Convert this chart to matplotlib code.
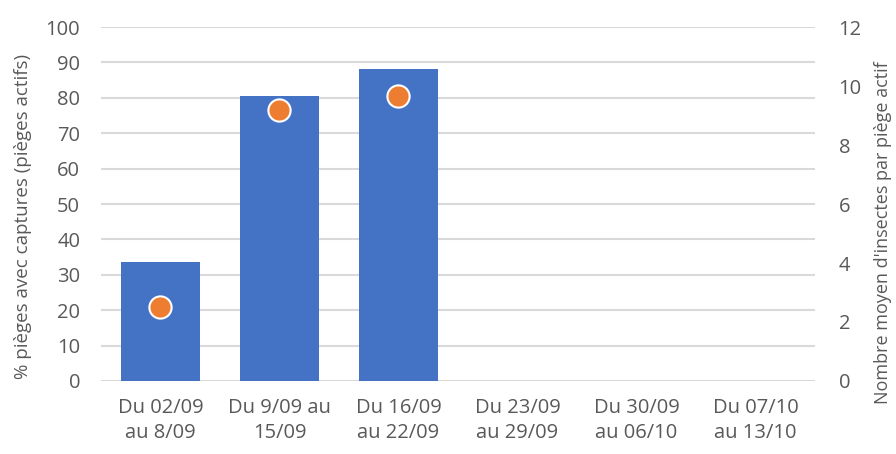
import matplotlib.pyplot as plt

periods = ['Du 02/09\nau 8/09', 'Du 9/09 au\n15/09', 'Du 16/09\nau 22/09',
           'Du 23/09\nau 29/09', 'Du 30/09\nau 06/10', 'Du 07/10\nau 13/10']
pct_captures = [33.7, 80.5, 88.0]
mean_insects = [2.5, 9.2, 9.65]

plt.rcParams['font.family'] = ['Open Sans', 'DejaVu Sans']
grey = '#595959'

fig = plt.figure(figsize=(8.96, 4.54), dpi=100)
ax = fig.add_axes([0.1127, 0.1608, 0.7969, 0.7797])
ax2 = ax.twinx()

x = list(range(len(periods)))
ax.bar(x[:len(pct_captures)], pct_captures, width=0.67, color='#4472C4', zorder=2)
ax2.plot(x[:len(mean_insects)], mean_insects, 'o', ms=16, color='#ED7D31',
         mec='white', mew=1.5, zorder=3)

ax.set_xlim(-0.5, len(periods) - 0.5)
ax.set_ylim(0, 100)
ax2.set_ylim(0, 12)
ax.set_yticks(range(0, 101, 10))
ax2.set_yticks(range(0, 13, 2))
ax.set_xticks(x)
ax.set_xticklabels(periods, linespacing=1.35)
ax.grid(axis='y', color='#d9d9d9', lw=1.5, zorder=0)
ax.set_axisbelow(True)

for a in (ax, ax2):
    for s in a.spines.values():
        s.set_visible(False)
    a.tick_params(length=0, labelsize=14.5, labelcolor=grey)
ax.tick_params(axis='y', pad=15)
ax2.tick_params(axis='y', pad=17)
ax.tick_params(axis='x', pad=12)

ax.set_ylabel('% pièges avec captures (pièges actifs)', fontsize=13.5, color=grey)
ax2.set_ylabel("Nombre moyen d'insectes par piège actif", fontsize=13, color=grey)
ax.yaxis.set_label_coords(-0.097, 0.466)
ax2.yaxis.set_label_coords(1.083, 0.42)

fig.savefig('out.png', dpi=100)
